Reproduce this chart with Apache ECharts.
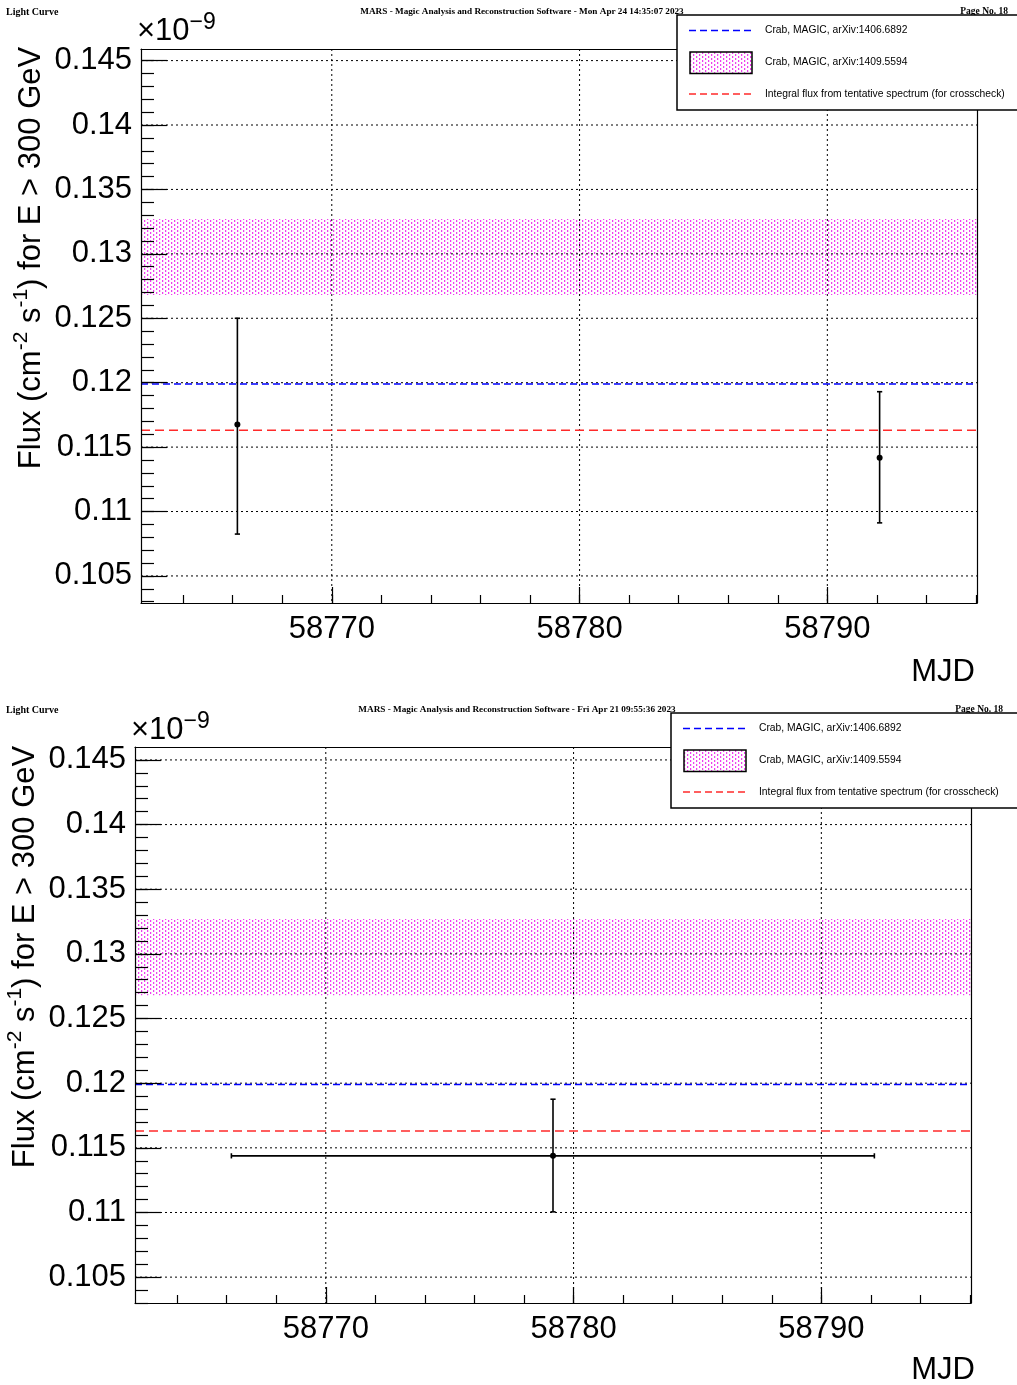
<!DOCTYPE html>
<html>
<head>
<meta charset="utf-8">
<script src="https://cdn.jsdelivr.net/npm/echarts@6/dist/echarts.min.js"></script>
<style>
  html, body { margin: 0; padding: 0; background: #ffffff; }
  #chart { width: 1017px; height: 1385px; }
</style>
</head>
<body>
<div id="chart"></div>
<script>
// Flux values are in units of 1e-9 cm^-2 s^-1 (E > 300 GeV), time in MJD.
const xMajorTicks = [58770, 58780, 58790];
const xMinorTicks = [58764, 58766, 58768, 58770, 58772, 58774, 58776, 58778, 58780,
                     58782, 58784, 58786, 58788, 58790, 58792, 58794, 58796];
const yMajorTicks = [0.105, 0.11, 0.115, 0.12, 0.125, 0.13, 0.135, 0.14, 0.145];
const yMinorTicks = [0.103, 0.104, 0.105, 0.106, 0.107, 0.108, 0.109, 0.11, 0.111, 0.112,
                     0.113, 0.114, 0.115, 0.116, 0.117, 0.118, 0.119, 0.12, 0.121, 0.122,
                     0.123, 0.124, 0.125, 0.126, 0.127, 0.128, 0.129, 0.13, 0.131, 0.132,
                     0.133, 0.134, 0.135, 0.136, 0.137, 0.138, 0.139, 0.14, 0.141, 0.142,
                     0.143, 0.144, 0.145];
const yMajorLabels = ['0.105', '0.11', '0.115', '0.12', '0.125', '0.13', '0.135', '0.14', '0.145'];

// Light-curve bins: [MJD, flux, fluxLow, fluxHigh, mjdLow, mjdHigh]
const nightlyBins = [
  [58766.19, 0.11676, 0.10825, 0.12500, 58766.19, 58766.19],
  [58792.11, 0.11418, 0.10912, 0.11930, 58792.11, 58792.11]
];
const combinedBins = [
  [58779.17, 0.11438, 0.11005, 0.11876, 58766.19, 58792.14]
];

// Reference fluxes
const crabFlux1406 = 0.1199;            // Crab, MAGIC, arXiv:1406.6892
const crabBand1409 = [0.1268, 0.1327];  // Crab, MAGIC, arXiv:1409.5594
const tentativeFlux = 0.1163;           // integral flux from tentative spectrum

const legendLabels = [
  'Crab, MAGIC, arXiv:1406.6892',
  'Crab, MAGIC, arXiv:1409.5594',
  'Integral flux from tentative spectrum (for crosscheck)'
];
const headerLeft = 'Light Curve';
const headerRight = 'Page No. 18';
const headerDates = ['Mon Apr 24 14:35:07 2023', 'Fri Apr 21 09:55:36 2023'];
const yTitleRich = '{n|Flux (cm}{s|-2}{n| s}{s|-1}{n|) for E > 300 GeV}';
const xTitle = 'MJD';

const SANS = '"Liberation Sans", Arial, Helvetica, sans-serif';
const SERIF = '"Liberation Serif", "Times New Roman", serif';
const BLUE = '#0000ff';
const RED = '#ff2a2a';

// ROOT-like dotted magenta fill pattern
function makeFillPattern() {
  const c = document.createElement('canvas');
  c.width = 6; c.height = 4;
  const g = c.getContext('2d');
  g.fillStyle = 'rgba(238,40,238,0.9)';
  g.fillRect(0, 0, 1, 2);
  g.fillRect(3, 2, 1, 2);
  g.fillStyle = 'rgba(245,150,245,0.45)';
  g.fillRect(1, 0, 1, 2);
  g.fillRect(4, 2, 1, 2);
  return c;
}
const fillPattern = { image: makeFillPattern(), repeat: 'repeat' };

const panels = [
  { grid: { left: 141, top: 49, width: 836, height: 554 }, yMin: 0.1029, yMax: 0.1459,
    bins: nightlyBins, date: headerDates[0], headY: 12, dateX: 522, pageX: 1008,
    legend: { x: 677, y: 15 }, yTitle: { x: 29, y: 258 }, xTitleY: 672, expo: { x: 137, y: 47 } },
  { grid: { left: 135, top: 747, width: 836, height: 556 }, yMin: 0.1030, yMax: 0.1460,
    bins: combinedBins, date: headerDates[1], headY: 710, dateX: 517, pageX: 1003,
    legend: { x: 671, y: 713 }, yTitle: { x: 23, y: 957 }, xTitleY: 1370, expo: { x: 131, y: 746 } }
];
const xMin = 58762.3, xMax = 58796.04;

function renderErrorBar(params, api) {
  const x = api.value(0), y = api.value(1);
  const p = api.coord([x, y]);
  const lo = api.coord([x, api.value(2)]);
  const hi = api.coord([x, api.value(3)]);
  const xl = api.coord([api.value(4), y]);
  const xh = api.coord([api.value(5), y]);
  const st = { stroke: '#000', lineWidth: 1.6 };
  const cap = 2.6;
  const kids = [
    { type: 'line', shape: { x1: p[0], y1: lo[1], x2: p[0], y2: hi[1] }, style: st },
    { type: 'line', shape: { x1: p[0] - cap, y1: lo[1], x2: p[0] + cap, y2: lo[1] }, style: st },
    { type: 'line', shape: { x1: p[0] - cap, y1: hi[1], x2: p[0] + cap, y2: hi[1] }, style: st }
  ];
  if (xh[0] - xl[0] > 1) {
    kids.push({ type: 'line', shape: { x1: xl[0], y1: p[1], x2: xh[0], y2: p[1] }, style: st });
    kids.push({ type: 'line', shape: { x1: xl[0], y1: p[1] - cap, x2: xl[0], y2: p[1] + cap }, style: st });
    kids.push({ type: 'line', shape: { x1: xh[0], y1: p[1] - cap, x2: xh[0], y2: p[1] + cap }, style: st });
  }
  kids.push({ type: 'circle', shape: { cx: p[0], cy: p[1], r: 3 }, style: { fill: '#000' } });
  return { type: 'group', children: kids };
}

// full-width horizontal line at a flux value
function hLine(style) {
  return function (params, api) {
    const cs = params.coordSys;
    const y = api.coord([xMajorTicks[0], api.value(0)])[1];
    return { type: 'line', shape: { x1: cs.x, y1: y, x2: cs.x + cs.width, y2: y }, style: style };
  };
}
// full-height vertical line at an MJD value
function vLine(style) {
  return function (params, api) {
    const cs = params.coordSys;
    const x = api.coord([api.value(0), yMajorTicks[0]])[0];
    return { type: 'line', shape: { x1: x, y1: cs.y, x2: x, y2: cs.y + cs.height }, style: style };
  };
}
// full-width band between two flux values
function renderBand(params, api) {
  const cs = params.coordSys;
  const yLo = api.coord([xMajorTicks[0], api.value(0)])[1];
  const yHi = api.coord([xMajorTicks[0], api.value(1)])[1];
  return { type: 'rect', shape: { x: cs.x, y: yHi, width: cs.width, height: yLo - yHi },
           style: { fill: fillPattern } };
}

const grids = [], xAxes = [], yAxes = [], series = [], graphics = [];
const frameLine = { show: true, onZero: false, lineStyle: { color: '#000', width: 1.2 } };
const tickStyle = { color: '#000', width: 1.2 };
const dotted = { stroke: '#000', lineWidth: 1, lineDash: [2, 3] };

panels.forEach((pn, i) => {
  grids.push(Object.assign({ show: false, containLabel: false, outerBoundsMode: 'none' }, pn.grid));
  // x axes: major ticks + labels, minor ticks, top frame
  xAxes.push({
    gridIndex: i, type: 'value', min: xMin, max: xMax, position: 'bottom', z: 10,
    axisLine: frameLine,
    axisTick: { show: true, inside: true, length: 16, customValues: xMajorTicks, lineStyle: tickStyle },
    axisLabel: { show: true, customValues: xMajorTicks, formatter: v => String(Math.round(v)),
                 fontSize: 31, fontFamily: SANS, color: '#000', margin: 11 },
    splitLine: { show: false }
  });
  xAxes.push({
    gridIndex: i, type: 'value', min: xMin, max: xMax, position: 'bottom', z: 10,
    axisLine: { show: false },
    axisTick: { show: true, inside: true, length: 8, customValues: xMinorTicks, lineStyle: tickStyle },
    axisLabel: { show: false }, splitLine: { show: false }
  });
  xAxes.push({
    gridIndex: i, type: 'value', min: xMin, max: xMax, position: 'top', z: 10,
    axisLine: frameLine, axisTick: { show: false }, axisLabel: { show: false }, splitLine: { show: false }
  });
  // y axes: major ticks + labels, minor ticks, right frame
  yAxes.push({
    gridIndex: i, type: 'value', min: pn.yMin, max: pn.yMax, position: 'left', z: 10,
    axisLine: frameLine,
    axisTick: { show: true, inside: true, length: 26, customValues: yMajorTicks, lineStyle: tickStyle },
    axisLabel: { show: true, customValues: yMajorTicks,
                 formatter: v => yMajorLabels[yMajorTicks.findIndex(t => Math.abs(t - v) < 1e-6)] || '',
                 fontSize: 31, fontFamily: SANS, color: '#000', margin: 9 },
    splitLine: { show: false }
  });
  yAxes.push({
    gridIndex: i, type: 'value', min: pn.yMin, max: pn.yMax, position: 'left', z: 10,
    axisLine: { show: false },
    axisTick: { show: true, inside: true, length: 13, customValues: yMinorTicks, lineStyle: tickStyle },
    axisLabel: { show: false }, splitLine: { show: false }
  });
  yAxes.push({
    gridIndex: i, type: 'value', min: pn.yMin, max: pn.yMax, position: 'right', z: 10,
    axisLine: frameLine, axisTick: { show: false }, axisLabel: { show: false }, splitLine: { show: false }
  });

  const xi = i * 3, yi = i * 3;
  const base = { type: 'custom', xAxisIndex: xi, yAxisIndex: yi, silent: true, animation: false };

  // Crab band (arXiv:1409.5594)
  series.push(Object.assign({}, base, { z: 1, renderItem: renderBand, data: [crabBand1409] }));
  // dotted grid at the major ticks
  series.push(Object.assign({}, base, { z: 2, renderItem: vLine(dotted), data: xMajorTicks.map(v => [v]) }));
  series.push(Object.assign({}, base, { z: 2, renderItem: hLine(dotted), data: yMajorTicks.map(v => [v]) }));
  // Crab reference (arXiv:1406.6892) and tentative-spectrum flux
  series.push(Object.assign({}, base, { z: 3,
    renderItem: hLine({ stroke: BLUE, lineWidth: 1.5, lineDash: [7, 4] }), data: [[crabFlux1406]] }));
  series.push(Object.assign({}, base, { z: 3,
    renderItem: hLine({ stroke: RED, lineWidth: 1.5, lineDash: [9, 5] }), data: [[tentativeFlux]] }));
  // light-curve points
  series.push(Object.assign({}, base, { z: 5, renderItem: renderErrorBar, data: pn.bins }));

  // page header
  const headFont = { fontFamily: SERIF, fontWeight: 'bold', fill: '#000' };
  graphics.push({ type: 'text', x: 6, y: pn.headY, z: 50,
    style: Object.assign({ text: headerLeft, fontSize: 10, verticalAlign: 'middle' }, headFont) });
  graphics.push({ type: 'text', x: pn.dateX, y: pn.headY, z: 50,
    style: Object.assign({ text: 'MARS - Magic Analysis and Reconstruction Software - ' + pn.date,
      fontSize: 9.2, align: 'center', verticalAlign: 'middle' }, headFont) });
  graphics.push({ type: 'text', x: pn.pageX, y: pn.headY, z: 50,
    style: Object.assign({ text: headerRight, fontSize: 9.5, align: 'right', verticalAlign: 'middle' }, headFont) });

  // axis titles and exponent
  graphics.push({ type: 'text', x: pn.yTitle.x, y: pn.yTitle.y, rotation: Math.PI / 2, z: 50,
    style: { text: yTitleRich, align: 'center', verticalAlign: 'middle', fill: '#000',
      rich: {
        n: { fontSize: 31, fontFamily: SANS, lineHeight: 36, verticalAlign: 'bottom', fill: '#000' },
        s: { fontSize: 21, fontFamily: SANS, lineHeight: 23, verticalAlign: 'top', fill: '#000' }
      } } });
  graphics.push({ type: 'text', x: 975, y: pn.xTitleY, z: 50,
    style: { text: xTitle, align: 'right', verticalAlign: 'middle', fontSize: 31,
      fontFamily: SANS, fill: '#000' } });
  graphics.push({ type: 'text', x: pn.expo.x, y: pn.expo.y, z: 50,
    style: { text: '{n|×10}{s|−9}', align: 'left', verticalAlign: 'bottom', fill: '#000',
      rich: {
        n: { fontSize: 31, fontFamily: SANS, lineHeight: 36, verticalAlign: 'bottom', fill: '#000' },
        s: { fontSize: 23, fontFamily: SANS, lineHeight: 25, verticalAlign: 'top', fill: '#000' }
      } } });

  // legend box
  const L = pn.legend;
  const legFont = { fontFamily: SANS, fontSize: 10.3, fill: '#000', verticalAlign: 'middle' };
  const legItems = [
    { type: 'rect', shape: { x: L.x, y: L.y, width: 360, height: 95 },
      style: { fill: '#fff', stroke: '#000', lineWidth: 1.5 } },
    { type: 'line', shape: { x1: L.x + 12, y1: L.y + 15.5, x2: L.x + 75, y2: L.y + 15.5 },
      style: { stroke: BLUE, lineWidth: 1.5, lineDash: [7, 4] } },
    { type: 'text', x: L.x + 88, y: L.y + 15.5, style: Object.assign({ text: legendLabels[0] }, legFont) },
    { type: 'rect', shape: { x: L.x + 13, y: L.y + 37, width: 62, height: 21.5 },
      style: { fill: fillPattern, stroke: '#000', lineWidth: 1.5 } },
    { type: 'text', x: L.x + 88, y: L.y + 47.5, style: Object.assign({ text: legendLabels[1] }, legFont) },
    { type: 'line', shape: { x1: L.x + 12, y1: L.y + 79, x2: L.x + 75, y2: L.y + 79 },
      style: { stroke: RED, lineWidth: 1.5, lineDash: [7, 4] } },
    { type: 'text', x: L.x + 88, y: L.y + 79, style: Object.assign({ text: legendLabels[2] }, legFont) }
  ];
  legItems.forEach((el, k) => { el.z = 100; el.z2 = k; graphics.push(el); });
});

const chart = echarts.init(document.getElementById('chart'), null, { renderer: 'canvas' });
chart.setOption({
  backgroundColor: '#ffffff',
  animation: false,
  grid: grids,
  xAxis: xAxes,
  yAxis: yAxes,
  series: series,
  graphic: graphics
});
</script>
</body>
</html>
